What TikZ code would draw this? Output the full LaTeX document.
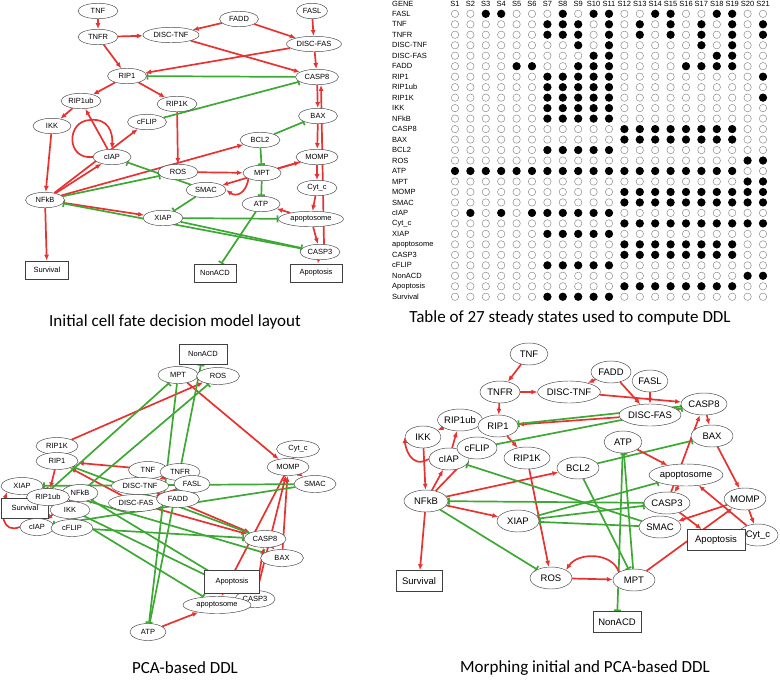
\documentclass[tikz,border=0pt]{standalone}
\usepackage{fontspec}
\setmainfont{Liberation Sans}
\newfontfamily\capfont{Carlito}
\usetikzlibrary{shapes.geometric,arrows.meta,backgrounds}
\definecolor{ared}{RGB}{232,50,50}
\definecolor{agreen}{RGB}{62,168,52}
\tikzset{
 elbase/.style={ellipse, draw=black!75, line width=0.45pt, fill=white, inner sep=0pt},
 elA/.style={elbase, minimum height=15.5pt, font=\fontsize{7.5}{8}\selectfont},
 elC/.style={elbase, minimum height=17pt, font=\fontsize{7.5}{8}\selectfont},
 elD/.style={elbase, minimum height=22pt, font=\fontsize{9.5}{10}\selectfont},
 bxA/.style={rectangle, draw=black!75, line width=0.6pt, fill=white, inner sep=0pt, minimum height=18pt, font=\fontsize{7.5}{8}\selectfont},
 bxD/.style={rectangle, draw=black!75, line width=0.6pt, fill=white, inner sep=0pt, minimum height=21pt, font=\fontsize{9.5}{10}\selectfont},
 act/.style={draw=ared, line width=1.7pt, -{Latex[length=6pt,width=5pt]}},
 inh/.style={draw=agreen, line width=1.7pt, -{Bar[width=7pt]}},
 tlab/.style={font=\fontsize{7.5}{8}\selectfont, inner sep=0pt},
 emptydot/.style={draw=black!45, line width=0.5pt},
 capt/.style={font=\capfont\fontsize{17}{19}\selectfont, inner sep=0pt}
}
\newcommand\modeledges[1]{%
 \foreach \ea/\eb in {TNF/TNFR, TNFR/DISCTNF, TNFR/RIP1, FADD/DISCTNF, FADD/DISCFAS, FASL/DISCFAS,
   DISCTNF/CASP8, DISCFAS/CASP8, DISCFAS/RIP1, CASP8/BAX, BAX/MOMP, RIP1/RIP1ub, RIP1/RIP1K,
   RIP1ub/IKK, IKK/NFkB, cIAP/RIP1ub, NFkB/cIAP, NFkB/cFLIP, NFkB/BCL2, NFkB/XIAP, NFkB/Survival,
   RIP1K/ROS, ROS/MPT, MPT/MOMP, MOMP/SMAC, MOMP/Cytc, Cytc/apoptosome, apoptosome/CASP3, CASP3/Apoptosis}
   \draw[act] (#1\ea) -- (#1\eb);
 \foreach \ea/\eb in {CASP8/RIP1, cFLIP/CASP8, BCL2/BAX, BCL2/MPT, MPT/ATP, ATP/NonACD, NFkB/ROS,
   SMAC/cIAP, SMAC/XIAP, XIAP/apoptosome, XIAP/CASP3, CASP3/NFkB}
   \draw[inh] (#1\ea) -- (#1\eb);
}
\begin{document}
\begin{tikzpicture}[x=1pt,y=-1pt]
\useasboundingbox (0,0) rectangle (780,681);

% ---------------- Panel 1 ----------------
\foreach \n/\x/\y/\w/\l in {TNF/98/11/40/TNF, TNFR/98/37/40/TNFR, DISCTNF/171/35/56/DISC-TNF,
  FADD/239/19/39/FADD, FASL/312/11/31/FASL, DISCFAS/314/44/55/DISC-FAS, RIP1/127/76/39/RIP1,
  CASP8/317/77/43/CASP8, RIP1ub/81/101/40/RIP1ub, RIP1K/177/104/40/RIP1K, IKK/52/126/38/IKK,
  cFLIP/147/122/39/cFLIP, BCL2/260/140/40/BCL2, BAX/318/116/39/BAX, cIAP/112/157/38/cIAP,
  ROS/178/172/40/ROS, MPT/262/173/38/MPT, MOMP/317/157/42/MOMP, SMAC/206/190/40/SMAC,
  Cytc/317/188/40/Cyt\_c, NFkB/45/200/39/NFkB, XIAP/163/218/40/XIAP, ATP/261/204/38/ATP,
  apoptosome/311/219/65/apoptosome, CASP3/320/252/40/CASP3}
  \node[elA, minimum width=\w pt] (a\n) at (\x,\y) {\l};
\foreach \n/\x/\y/\w in {Survival/47/270/43, NonACD/215/273/42, Apoptosis/316/273/52}
  \node[bxA, minimum width=\w pt] (a\n) at (\x,\y) {\n};
\begin{pgfonlayer}{background}
 \modeledges{a}
 \draw[act] (aapoptosome) -- (aATP);
 \draw[act] ([xshift=4pt]aCASP3.north) -- ([xshift=4pt]aCASP8.south);
 \draw[act] (aMPT.south west) .. controls (246,194) and (236,197) .. (aSMAC.east);
 \draw[act] (acIAP.west) .. controls (66,160) and (66,121) .. (90,120) .. controls (108,118) and (113,132) .. (acIAP.north);
\end{pgfonlayer}
\node[capt] (cap1) at (175,322) {Initial cell fate decision model layout};

% ---------------- Panel 2: table ----------------
\node[tlab, anchor=west] (gene) at (392,4) {GENE};
\foreach \c in {1,...,21} \node[tlab] (s\c) at ({455+15.4*(\c-1)},4) {S\c};
\foreach \lab/\on [count=\i from 0] in {FASL/{3,4,8,10,11,14,15,18,19}, TNF/{7,8,9,11,13,15,17,19,21},
  TNFR/{7,8,9,11,13,15,17,19,21}, DISC-TNF/{9,11,17,19}, DISC-FAS/{10,11,18,19},
  FADD/{5,6,9,10,11,16,17,18,19}, RIP1/{7,8,9,10,11,21}, RIP1ub/{7,8,9,10,11},
  RIP1K/{7,8,9,10,11,21}, IKK/{7,8,9,10,11}, NFkB/{7,8,9,10,11}, CASP8/{12,...,19},
  BAX/{12,...,19}, BCL2/{7,8,9,10,11}, ROS/{20,21}, ATP/{1,...,19}, MPT/{20,21},
  MOMP/{12,...,21}, SMAC/{12,...,21}, cIAP/{2,4,6,7,8,9,10,11}, Cyt\_c/{12,...,21},
  XIAP/{7,8,9,10,11}, apoptosome/{12,...,19}, CASP3/{12,...,19}, cFLIP/{7,8,9,10,11},
  NonACD/{20,21}, Apoptosis/{12,...,19}, Survival/{7,8,9,10,11}} {
  \node[tlab, anchor=west] (r\i) at (392,{13.8+10.48*\i}) {\lab};
  \foreach \c in {1,...,21} \draw[emptydot] ({455+15.4*(\c-1)},{13.8+10.48*\i}) circle (3.7pt);
  \foreach \c in \on \fill ({455+15.4*(\c-1)},{13.8+10.48*\i}) circle (4.1pt);
}
\node[capt] (cap2) at (570,318) {Table of 27 steady states used to compute DDL};

% ---------------- Panel 3 ----------------
\node[bxA, minimum width=48pt, minimum height=20pt] (cNonACD) at (203,354) {NonACD};
\foreach \n/\x/\y/\w/\l in {MPT/178/375/40/MPT, ROS/218/376/43/ROS, Cytc/298/449/43/Cyt\_c,
  MOMP/288/467/42/MOMP, SMAC/315/484/42/SMAC, RIP1K/57/446/42/RIP1K, RIP1/57/461/42/RIP1,
  TNF/148/470/39/TNF, TNFR/180/472/40/TNFR, FASL/192/484/36/FASL, DISCTNF/140/486/57/DISC-TNF,
  DISCFAS/136/503/55/DISC-FAS, FADD/178/499/43/FADD, XIAP/22/486/42/XIAP, NFkB/80/493/36/NFkB}
  \node[elC, minimum width=\w pt] (c\n) at (\x,\y) {\l};
\node[bxA, minimum width=47pt, minimum height=20pt] (cSurvival) at (25,508) {Survival};
\foreach \n/\x/\y/\w/\l in {IKK/70/510/40/IKK, RIP1ub/48/497/43/RIP1ub, cIAP/37/527/34/cIAP,
  cFLIP/72/528/42/cFLIP, CASP8/265/539/42/CASP8, BAX/282/558/43/BAX, CASP3/255/599/40/CASP3}
  \node[elC, minimum width=\w pt] (c\n) at (\x,\y) {\l};
\node[bxA, minimum width=55pt, minimum height=23pt] (cApoptosis) at (232,582) {Apoptosis};
\node[elC, minimum width=68pt] (capoptosome) at (217,605) {apoptosome};
\node[elC, minimum width=36pt] (cATP) at (148,632) {ATP};
\coordinate (cBCL2) at (50,490);
\begin{pgfonlayer}{background}
 \modeledges{c}
 \draw[act] (cATP) -- (capoptosome);
 \draw[act] (cCASP3) -- (cCASP8);
 \draw[act] (cCASP3) -- (cMOMP);
 \draw[act] (ccIAP.west) .. controls (2,534) and (0,512) .. (cXIAP.south west);
\end{pgfonlayer}
\node[capt] (cap3) at (185,668) {PCA-based DDL};

% ---------------- Panel 4 ----------------
\foreach \n/\x/\y/\w/\l in {TNF/529/354/38/TNF, FADD/611/372/40/FADD, FASL/650/381/36/FASL,
  TNFR/500/392/40/TNFR, DISCTNF/569/392/62/DISC-TNF, CASP8/704/404/46/CASP8,
  DISCFAS/650/415/60/DISC-FAS, RIP1ub/460/420/44/RIP1ub, RIP1/498/426/40/RIP1,
  IKK/423/437/36/IKK, cIAP/449/459/40/cIAP, cFLIP/477/448/40/cFLIP, RIP1K/527/458/46/RIP1K,
  ATP/623/442/38/ATP, BAX/712/436/42/BAX, BCL2/578/468/42/BCL2, apoptosome/686/475/70/apoptosome,
  MOMP/745/499/40/MOMP, CASP3/667/503/46/CASP3, NFkB/426/501/44/NFkB, XIAP/518/521/42/XIAP,
  SMAC/660/527/42/SMAC, Cytc/758/535/40/Cyt\_c, ROS/551/578/42/ROS, MPT/634/580/42/MPT}
  \node[elD, minimum width=\w pt] (d\n) at (\x,\y) {\l};
\node[bxD, minimum width=58pt] (dApoptosis) at (716,540) {Apoptosis};
\node[bxD, minimum width=46pt] (dSurvival) at (419,581) {Survival};
\node[bxD, minimum width=48pt] (dNonACD) at (617,622) {NonACD};
\begin{pgfonlayer}{background}
 \modeledges{d}
 \draw[act] (dATP) -- (dapoptosome);
 \draw[act] (dCASP3) -- (dCASP8);
 \draw[act] (dMPT.north west) .. controls (612,552) and (578,552) .. (dROS.north east);
 \draw[act] (dcIAP.west) .. controls (410,470) and (405,445) .. (dIKK.west);
\end{pgfonlayer}
\node[capt] (cap4) at (585,668) {Morphing initial and PCA-based DDL};
\end{tikzpicture}
\end{document}
